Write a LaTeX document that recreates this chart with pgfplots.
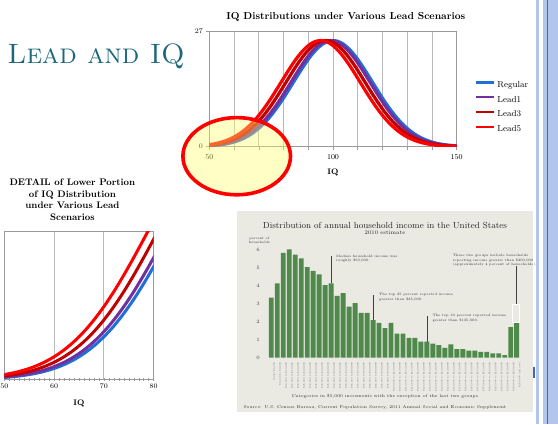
\documentclass[border=0pt]{standalone}
\usepackage{pgfplots}
\pgfplotsset{compat=1.18}
\usepackage{pgfplotstable}
\definecolor{cReg}{RGB}{31,111,214}
\definecolor{cL1}{RGB}{112,48,160}
\definecolor{cL3}{RGB}{192,0,0}
\definecolor{cL5}{RGB}{255,0,0}
\definecolor{teal1}{RGB}{27,104,124}
\definecolor{bgbox}{RGB}{234,234,227}
\definecolor{bargreen}{RGB}{79,138,76}
\definecolor{stripe}{RGB}{178,197,236}
\definecolor{stripedark}{RGB}{66,102,196}
\definecolor{ellfill}{RGB}{255,255,110}

\pgfplotstableread{
x reg l1 l3 l5
50 0.189 0.229 0.333 0.478
52 0.277 0.333 0.478 0.673
54 0.400 0.478 0.673 0.935
56 0.568 0.673 0.935 1.278
58 0.795 0.935 1.278 1.720
60 1.095 1.278 1.720 2.278
62 1.486 1.720 2.278 2.972
64 1.983 2.278 2.972 3.816
66 2.607 2.972 3.816 4.823
68 3.374 3.816 4.823 6.003
70 4.298 4.823 6.003 7.355
72 5.391 6.003 7.355 8.872
74 6.658 7.355 8.872 10.54
76 8.094 8.872 10.54 12.32
78 9.687 10.54 12.32 14.18
80 11.41 12.32 14.18 16.06
82 13.24 14.18 16.06 17.92
84 15.12 16.06 17.92 19.68
86 17.00 17.92 19.68 21.28
88 18.82 19.68 21.28 22.65
90 20.51 21.28 22.65 23.74
92 22.00 22.65 23.74 24.50
94 23.24 23.74 24.50 24.88
96 24.16 24.50 24.88 24.88
98 24.74 24.88 24.88 24.50
100 24.93 24.88 24.50 23.74
102 24.74 24.50 23.74 22.65
104 24.16 23.74 22.65 21.28
106 23.24 22.65 21.28 19.68
108 22.00 21.28 19.68 17.92
110 20.51 19.68 17.92 16.06
112 18.82 17.92 16.06 14.18
114 17.00 16.06 14.18 12.32
116 15.12 14.18 12.32 10.54
118 13.24 12.32 10.54 8.872
120 11.41 10.54 8.872 7.355
122 9.687 8.872 7.355 6.003
124 8.094 7.355 6.003 4.823
126 6.658 6.003 4.823 3.816
128 5.391 4.823 3.816 2.972
130 4.298 3.816 2.972 2.278
132 3.374 2.972 2.278 1.720
134 2.607 2.278 1.720 1.278
136 1.983 1.720 1.278 0.935
138 1.486 1.278 0.935 0.673
140 1.095 0.935 0.673 0.478
142 0.795 0.673 0.478 0.333
144 0.568 0.478 0.333 0.229
146 0.400 0.333 0.229 0.155
148 0.277 0.229 0.155 0.103
150 0.189 0.155 0.103 0.068
}\iqdata

\pgfplotstableread{
idx pct
0 3.35
1 4.15
2 5.85
3 6.05
4 5.75
5 5.55
6 5.05
7 4.85
8 4.65
9 4.05
10 4.15
11 3.45
12 3.60
13 2.85
14 3.05
15 2.50
16 2.50
17 2.10
18 1.95
19 1.65
20 1.95
21 1.35
22 1.35
23 1.10
24 1.10
25 0.90
26 0.90
27 0.78
28 0.70
29 0.55
30 0.75
31 0.48
32 0.48
33 0.40
34 0.40
35 0.33
36 0.33
37 0.24
38 0.24
39 0.15
40 1.70
41 1.95
}\income

\begin{document}
\begin{tikzpicture}
\useasboundingbox (0pt,0pt) rectangle (558pt,-424pt);
\fill[white] (0pt,0pt) rectangle (558pt,-424pt);

% right border stripes
\fill[stripe] (536pt,0pt) rectangle (539pt,-424pt);
\fill[stripe] (542.7pt,0pt) rectangle (558pt,-424pt);
\fill[stripedark] (546.5pt,0pt) rectangle (548pt,-424pt);

% slide title
\node[anchor=base west, inner sep=0pt, text=teal1, font=\fontsize{28}{28}\selectfont] at (7.3pt,-63.3pt) {\textsc{Lead and IQ}};

% main chart
\begin{axis}[
  at={(209.3pt,-146.7pt)}, anchor=south west, scale only axis,
  width=247.4pt, height=115pt,
  xmin=50, xmax=150, ymin=0, ymax=27,
  xtick={50,60,...,150}, xticklabels={50,,,,,100,,,,,150},
  ytick={0,27},
  xmajorgrids, grid style={gray!55, line width=0.6pt},
  axis line style={gray!80, line width=0.6pt},
  tick style={gray!80, line width=0.5pt},
  tick align=outside, major tick length=3pt,
  xtick pos=left, ytick pos=left,
  ticklabel style={font=\fontsize{7.5}{8}\selectfont},
  xticklabel style={yshift=-1.5pt},
  title={IQ Distributions under Various Lead Scenarios},
  title style={font=\bfseries\fontsize{10.1}{11}\selectfont, at={(axis description cs:0.552,1.075)}, anchor=center, inner sep=0pt},
  xlabel={IQ},
  xlabel style={font=\bfseries\fontsize{8}{9}\selectfont, at={(axis description cs:0.5,-0.225)}, anchor=center, inner sep=0pt},
  legend style={at={(axis description cs:1.074,0.588)}, anchor=north west, draw=none, fill=none, inner sep=0pt,
    font=\fontsize{8.8}{9}\selectfont, row sep=3.1pt,
    /tikz/every even column/.append style={column sep=1.2pt}},
  legend cell align=left,
  legend image code/.code={\draw[#1, line width=2.2pt] (0pt,2.6pt) -- (18pt,2.6pt);},
  every axis plot/.append style={line width=3.2pt, no markers, smooth},
]
\addplot[cReg] table[x=x,y=reg]{\iqdata};
\addplot[cL1] table[x=x,y=l1]{\iqdata};
\addplot[cL3] table[x=x,y=l3]{\iqdata};
\addplot[cL5] table[x=x,y=l5]{\iqdata};
\legend{Regular,Lead1,Lead3,Lead5}
\end{axis}

% highlight ellipse
\draw[cL5, line width=3.6pt, fill=ellfill, fill opacity=0.4] (236.7pt,-156.2pt) ellipse [x radius=53.8pt, y radius=38.6pt];

% detail chart
\begin{axis}[
  at={(4.3pt,-379.3pt)}, anchor=south west, scale only axis,
  width=149.4pt, height=148.3pt,
  xmin=50, xmax=80, ymin=0, ymax=15,
  xtick={50,60,70,80}, ytick=\empty,
  minor x tick num=9,
  xmajorgrids, grid style={gray!55, line width=0.8pt},
  axis line style={gray!80, line width=0.7pt},
  tick style={gray!80, line width=0.5pt},
  major tick length=3pt, minor tick length=3pt, tick align=center,
  xtick pos=left,
  ticklabel style={font=\fontsize{7.5}{8}\selectfont},
  title={DETAIL of Lower Portion\\of IQ Distribution\\under Various Lead\\Scenarios},
  title style={font=\bfseries\fontsize{9.5}{11.5}\selectfont, align=center, at={(axis description cs:0.456,1.172)}, anchor=center, inner sep=0pt},
  xlabel={IQ},
  xlabel style={font=\bfseries\fontsize{8}{9}\selectfont, at={(axis description cs:0.5,-0.16)}, anchor=center, inner sep=0pt},
  every axis plot/.append style={line width=3pt, no markers, smooth},
]
\addplot[cReg] table[x=x,y=reg]{\iqdata};
\addplot[cL1] table[x=x,y=l1]{\iqdata};
\addplot[cL3] table[x=x,y=l3]{\iqdata};
\addplot[cL5] table[x=x,y=l5]{\iqdata};
\end{axis}

% income picture
\fill[bgbox] (236.7pt,-211pt) rectangle (532.7pt,-412.3pt);
\fill[stripedark] (532.7pt,-366.7pt) rectangle (535pt,-378pt);
\node[font=\fontsize{8.8}{10}\selectfont, text=black!85] at (385pt,-225pt) {Distribution of annual household income in the United States};
\node[font=\fontsize{5.5}{6}\selectfont, text=black!85] at (385pt,-233pt) {2010 estimate};
\node[font=\fontsize{3.3}{3.8}\selectfont, text=black!80, align=center] at (259.3pt,-240pt) {percent of\\households};
\node[font=\fontsize{4.2}{5}\selectfont, text=black!80] at (385pt,-396.7pt) {Categories in \$5,000 increments with the exception of the last two groups};
\node[anchor=west, font=\fontsize{4.2}{5}\selectfont, text=black!80] at (240pt,-407.3pt) {Source: U.S. Census Bureau, Current Population Survey, 2011 Annual Social and Economic Supplement};

\begin{axis}[
  at={(268.3pt,-357.7pt)}, anchor=south west, scale only axis,
  width=251.4pt, height=111.1pt,
  xmin=-0.5, xmax=41.5, ymin=0, ymax=6.2,
  ybar, bar width=0.82,
  axis line style={draw=none}, tick style={draw=none},
  ytick={0,1,2,3,4,5,6},
  yticklabel style={font=\fontsize{3.5}{4}\selectfont, text=black!75, xshift=-5pt},
  xtick={0,...,41},
  xticklabels={{Under \$5,000},{\$5,000 to \$9,999},{\$10,000 to \$14,999},{\$15,000 to \$19,999},{\$20,000 to \$24,999},{\$25,000 to \$29,999},{\$30,000 to \$34,999},{\$35,000 to \$39,999},{\$40,000 to \$44,999},{\$45,000 to \$49,999},{\$50,000 to \$54,999},{\$55,000 to \$59,999},{\$60,000 to \$64,999},{\$65,000 to \$69,999},{\$70,000 to \$74,999},{\$75,000 to \$79,999},{\$80,000 to \$84,999},{\$85,000 to \$89,999},{\$90,000 to \$94,999},{\$95,000 to \$99,999},{\$100,000 to \$104,999},{\$105,000 to \$109,999},{\$110,000 to \$114,999},{\$115,000 to \$119,999},{\$120,000 to \$124,999},{\$125,000 to \$129,999},{\$130,000 to \$134,999},{\$135,000 to \$139,999},{\$140,000 to \$144,999},{\$145,000 to \$149,999},{\$150,000 to \$154,999},{\$155,000 to \$159,999},{\$160,000 to \$164,999},{\$165,000 to \$169,999},{\$170,000 to \$174,999},{\$175,000 to \$179,999},{\$180,000 to \$184,999},{\$185,000 to \$189,999},{\$190,000 to \$194,999},{\$195,000 to \$199,999},{\$200,000 to \$249,999},{\$250,000 and over}},
  xticklabel style={rotate=90, anchor=east, font=\fontsize{2.3}{2.5}\selectfont, text=black!60, inner sep=0.5pt, yshift=-3pt},
  clip=false,
]
\addplot[fill=bargreen, draw=none] table[x=idx,y=pct]{\income};
\draw[black!75, line width=0.4pt] (axis cs:10,4.15) -- (axis cs:10,5.65);
\node[anchor=north west, align=left, inner sep=0pt, font=\fontsize{3.4}{4.6}\selectfont, text=black!80] at (axis cs:10.8,5.75) {Median household income was\\roughly \$50,000.};
\draw[black!75, line width=0.4pt] (axis cs:17,2.10) -- (axis cs:17,3.50);
\node[anchor=north west, align=left, inner sep=0pt, font=\fontsize{3.4}{4.6}\selectfont, text=black!80] at (axis cs:18,3.60) {The top 25 percent reported income\\greater than \$85,000.};
\draw[black!75, line width=0.4pt] (axis cs:26,0.90) -- (axis cs:26,2.30);
\node[anchor=north west, align=left, inner sep=0pt, font=\fontsize{3.4}{4.6}\selectfont, text=black!80] at (axis cs:26.9,2.42) {The top 10 percent reported income\\greater than \$135,000.};
\draw[white, line width=0.5pt] (axis cs:40.3,2.0) rectangle (axis cs:41.45,3.0);
\draw[black!75, line width=0.4pt] (axis cs:40.85,3.0) -- (axis cs:40.85,5.1);
\node[anchor=north west, align=left, inner sep=0pt, font=\fontsize{3.4}{4.4}\selectfont, text=black!80] at (axis cs:30.3,5.78) {These two groups include households\\reporting income greater than \$200,000\\(approximately 4 percent of households).};
\end{axis}
\end{tikzpicture}
\end{document}
